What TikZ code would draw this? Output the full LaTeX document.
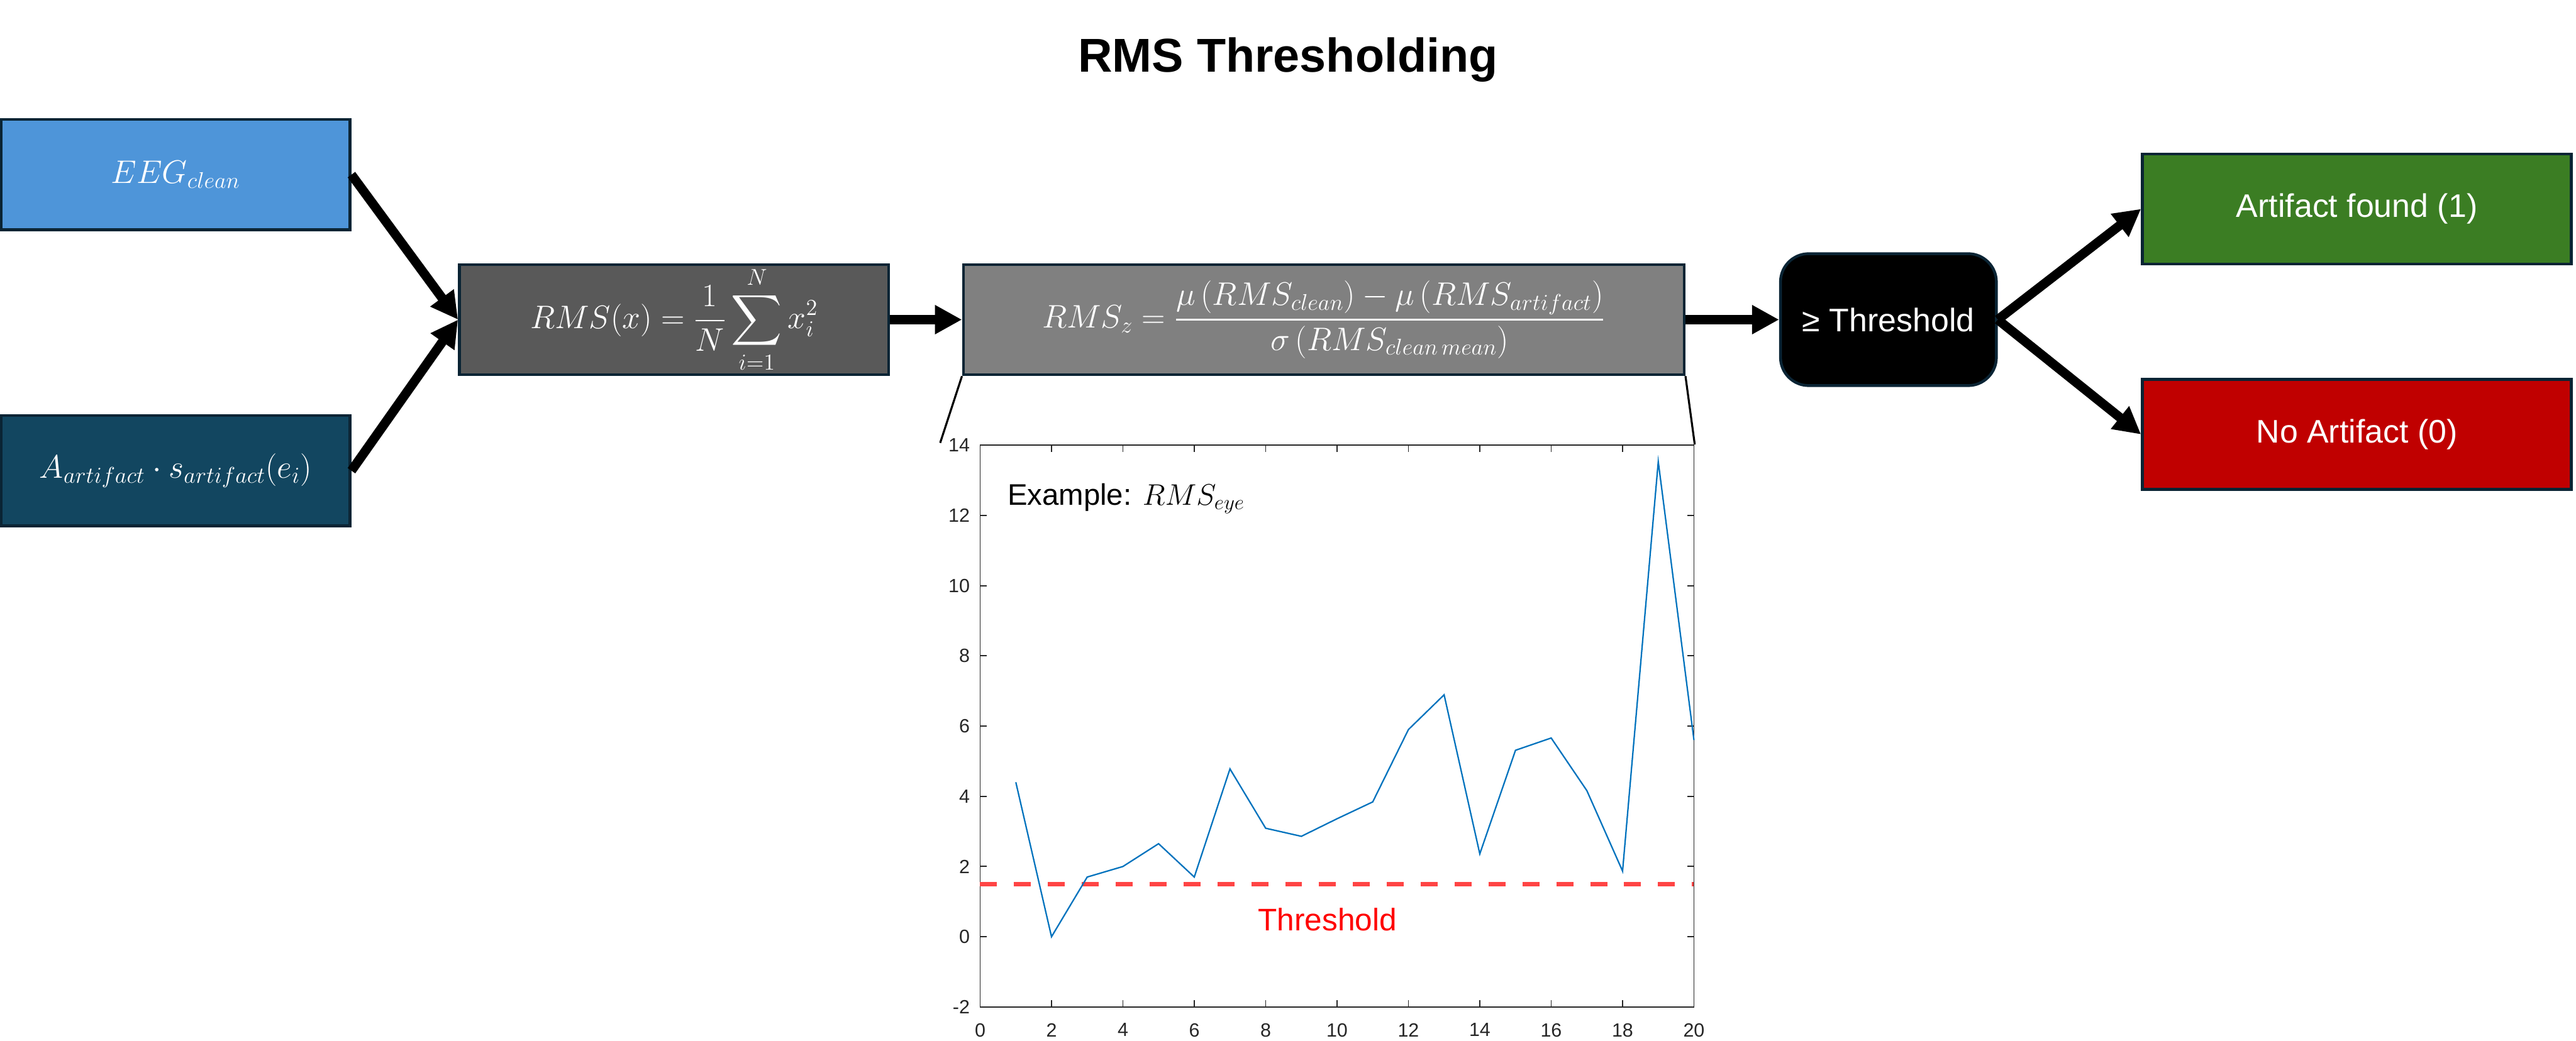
\RequirePackage{fix-cm}
\documentclass[tikz,border=0pt]{standalone}
\usepackage{amsmath}
\usepackage[no-math]{fontspec}
\setmainfont{Liberation Sans}
\usepackage{xcolor}
\usetikzlibrary{arrows.meta,positioning}

\definecolor{boxline}{RGB}{10,36,52}
\definecolor{eegblue}{RGB}{78,149,217}
\definecolor{artblue}{RGB}{18,70,96}
\definecolor{rmsgray}{RGB}{89,89,89}
\definecolor{zgray}{RGB}{128,128,128}
\definecolor{foundgreen}{RGB}{59,125,35}
\definecolor{noartred}{RGB}{192,0,0}
\definecolor{thrred}{RGB}{255,68,68}
\definecolor{matblue}{RGB}{0,114,189}
\definecolor{axisgray}{RGB}{38,38,38}

\begin{document}
\begin{tikzpicture}[
    flowbox/.style={draw=boxline, line width=0.07cm, minimum height=2.73cm, inner sep=0pt, text=white, font=\fontsize{23}{28}\selectfont},
    inbox/.style={flowbox, minimum width=8.64cm},
    outbox/.style={flowbox, minimum width=10.63cm},
    decbox/.style={flowbox, fill=black, rounded corners=0.7cm, minimum width=5.35cm, minimum height=3.27cm},
    arr/.style={-{Triangle[length=0.67cm, width=0.68cm]}, line width=0.23cm},
    zoomline/.style={line width=0.05cm},
    axisline/.style={draw=axisgray, line width=0.03cm},
    ticklbl/.style={text=axisgray, inner sep=0pt, font=\fontsize{13.5}{16}\selectfont},
    thrline/.style={draw=thrred, line width=0.12cm, dash pattern=on 0.42cm off 0.42cm},
    sigline/.style={draw=matblue, line width=0.035cm},
]
\useasboundingbox (0,0) rectangle (63.84,-25.80);

% Title
\node (title) [anchor=base, font=\fontsize{33.5}{40}\selectfont\bfseries] at (31.92,-1.79) {RMS Thresholding};

% Inputs
\node (eeg) [inbox, fill=eegblue] at (4.355,-4.33) {$EEG_{clean}$};
\node (art) [inbox, fill=artblue, below=4.54cm of eeg] {$A_{artifact}\cdot s_{artifact}(e_i)$};

% Processing chain
\node (rms) [flowbox, fill=rmsgray, minimum width=10.64cm] at (16.705,-7.925) {$\displaystyle RMS(x)=\frac{1}{N}\sum_{i=1}^{N}x_i^2$};
\node (rmsz) [flowbox, fill=zgray, minimum width=17.86cm, right=1.78cm of rms] {$\displaystyle RMS_z=\frac{\mu\left(RMS_{clean}\right)-\mu\left(RMS_{artifact}\right)}{\sigma\left(RMS_{clean\,mean}\right)}$};
\node (thr) [decbox, right=2.32cm of rmsz] {≥ Threshold};

% Outcomes
\node (found) [outbox, fill=foundgreen] at (58.41,-5.18) {Artifact found (1)};
\node (noart) [outbox, fill=noartred, below=2.79cm of found] {No Artifact (0)};

% Arrows
\draw[arr] (eeg.east) -- (rms.west);
\draw[arr] (art.east) -- (rms.west);
\draw[arr] (rms.east) -- (rmsz.west);
\draw[arr] (rmsz.east) -- (thr.west);
\draw[arr] (thr.east) -- (found.west);
\draw[arr] (thr.east) -- (noart.west);

% Zoom onto the example plot
\coordinate (zl) at (23.30,-10.98);
\coordinate (zr) at (42.00,-11.02);
\draw[zoomline] (rmsz.south west) -- (zl);
\draw[zoomline] (rmsz.south east) -- (zr);

% Example plot
\begin{scope}[shift={(24.29,-23.225)}, x=0.8845cm, y=0.8706cm]
  \draw[axisline] (0,-2) rectangle (20,14);
  \foreach \x in {0,2,...,20} {
    \draw[axisline] (\x,-2) -- ++(0pt,0.17cm);
    \draw[axisline] (\x,14) -- ++(0pt,-0.17cm);
    \node (xt\x) [ticklbl, below=0.4cm] at (\x,-2) {\x};
  }
  \foreach \y in {-2,0,...,14} {
    \draw[axisline] (0,\y) -- ++(0.17cm,0pt);
    \draw[axisline] (20,\y) -- ++(-0.17cm,0pt);
    \node (yt\y) [ticklbl, left=0.25cm] at (0,\y) {\y};
  }
  \draw[thrline] (0,1.5) -- (20,1.5);
  \draw[sigline] plot coordinates {(1,4.40) (2,0.0) (3,1.70) (4,2.0) (5,2.65) (6,1.70) (7,4.78) (8,3.09) (9,2.86) (10,3.36) (11,3.84) (12,5.90) (13,6.89) (14,2.36) (15,5.31) (16,5.66) (17,4.16) (18,1.87) (19,13.53) (20,5.6)};
  \node (thrlbl) [text=red, font=\fontsize{22}{26}\selectfont] at (9.73,0.49) {Threshold};
  \node (exlbl) [anchor=base west, inner sep=0pt, font=\fontsize{21}{25}\selectfont] at (0.76,12.30) {Example: $RMS_{eye}$};
\end{scope}
\end{tikzpicture}
\end{document}
